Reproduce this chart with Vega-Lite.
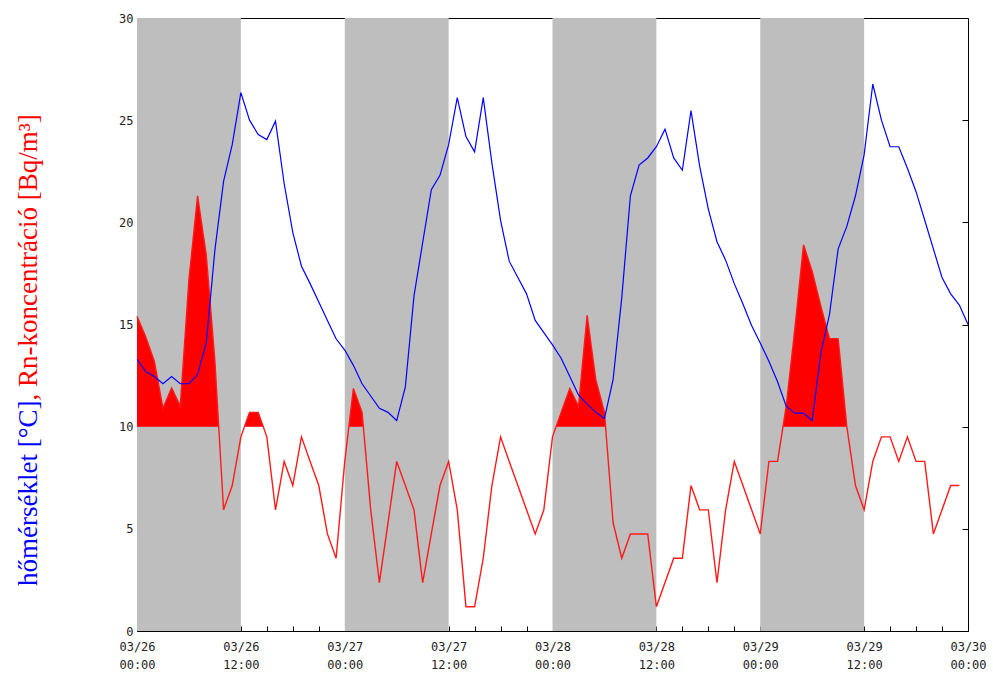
{
  "$schema": "https://vega.github.io/schema/vega-lite/v6.json",
  "width": 831,
  "height": 613,
  "autosize": {"type": "none"},
  "padding": {"left": 137, "top": 18, "right": 25, "bottom": 45},
  "background": "white",
  "config": {
    "view": {"stroke": "#000000", "strokeWidth": 1},
    "axis": {
      "labelFont": "DejaVu Sans Mono",
      "labelFontSize": 12,
      "labelColor": "#222222",
      "tickColor": "#000000",
      "grid": false,
      "domain": false
    }
  },
  "datasets": {
    "bands": [
      {"s": "2014-03-26T00:00:00Z", "e": "2014-03-26T12:00:00Z"},
      {"s": "2014-03-27T00:00:00Z", "e": "2014-03-27T12:00:00Z"},
      {"s": "2014-03-28T00:00:00Z", "e": "2014-03-28T12:00:00Z"},
      {"s": "2014-03-29T00:00:00Z", "e": "2014-03-29T12:00:00Z"}
    ],
    "redfill": [
      {"seg": "A", "t": "2014-03-26T00:00:00Z", "v": 15.4},
      {"seg": "A", "t": "2014-03-26T01:00:00Z", "v": 14.4},
      {"seg": "A", "t": "2014-03-26T02:00:00Z", "v": 13.2},
      {"seg": "A", "t": "2014-03-26T03:00:00Z", "v": 10.9},
      {"seg": "A", "t": "2014-03-26T04:00:00Z", "v": 11.9},
      {"seg": "A", "t": "2014-03-26T05:00:00Z", "v": 11.0},
      {"seg": "A", "t": "2014-03-26T06:00:00Z", "v": 17.2},
      {"seg": "A", "t": "2014-03-26T07:00:00Z", "v": 21.3},
      {"seg": "A", "t": "2014-03-26T08:00:00Z", "v": 18.4},
      {"seg": "A", "t": "2014-03-26T09:00:00Z", "v": 13.2},
      {"seg": "A", "t": "2014-03-26T09:26:00Z", "v": 10},
      {"seg": "B", "t": "2014-03-26T12:25:00Z", "v": 10},
      {"seg": "B", "t": "2014-03-26T13:00:00Z", "v": 10.7},
      {"seg": "B", "t": "2014-03-26T14:00:00Z", "v": 10.7},
      {"seg": "B", "t": "2014-03-26T14:35:00Z", "v": 10},
      {"seg": "C", "t": "2014-03-27T00:29:00Z", "v": 10},
      {"seg": "C", "t": "2014-03-27T01:00:00Z", "v": 11.87},
      {"seg": "C", "t": "2014-03-27T02:00:00Z", "v": 10.7},
      {"seg": "C", "t": "2014-03-27T02:09:00Z", "v": 10},
      {"seg": "D", "t": "2014-03-28T00:25:00Z", "v": 10},
      {"seg": "D", "t": "2014-03-28T01:00:00Z", "v": 10.7},
      {"seg": "D", "t": "2014-03-28T02:00:00Z", "v": 11.87},
      {"seg": "D", "t": "2014-03-28T03:00:00Z", "v": 11.0},
      {"seg": "D", "t": "2014-03-28T04:00:00Z", "v": 15.45},
      {"seg": "D", "t": "2014-03-28T05:00:00Z", "v": 12.3},
      {"seg": "D", "t": "2014-03-28T06:00:00Z", "v": 10.7},
      {"seg": "D", "t": "2014-03-28T06:08:00Z", "v": 10},
      {"seg": "E", "t": "2014-03-29T02:38:00Z", "v": 10},
      {"seg": "E", "t": "2014-03-29T03:00:00Z", "v": 11.0},
      {"seg": "E", "t": "2014-03-29T04:00:00Z", "v": 14.8},
      {"seg": "E", "t": "2014-03-29T05:00:00Z", "v": 18.9},
      {"seg": "E", "t": "2014-03-29T06:00:00Z", "v": 17.6},
      {"seg": "E", "t": "2014-03-29T07:00:00Z", "v": 15.9},
      {"seg": "E", "t": "2014-03-29T08:00:00Z", "v": 14.3},
      {"seg": "E", "t": "2014-03-29T09:00:00Z", "v": 14.3},
      {"seg": "E", "t": "2014-03-29T10:00:00Z", "v": 10.0}
    ],
    "rn": [
      {"t": "2014-03-26T00:00:00Z", "v": 15.4}, {"t": "2014-03-26T01:00:00Z", "v": 14.4}, {"t": "2014-03-26T02:00:00Z", "v": 13.2}, {"t": "2014-03-26T03:00:00Z", "v": 10.9},
      {"t": "2014-03-26T04:00:00Z", "v": 11.9}, {"t": "2014-03-26T05:00:00Z", "v": 11.0}, {"t": "2014-03-26T06:00:00Z", "v": 17.2}, {"t": "2014-03-26T07:00:00Z", "v": 21.3},
      {"t": "2014-03-26T08:00:00Z", "v": 18.4}, {"t": "2014-03-26T09:00:00Z", "v": 13.2}, {"t": "2014-03-26T10:00:00Z", "v": 5.93}, {"t": "2014-03-26T11:00:00Z", "v": 7.12},
      {"t": "2014-03-26T12:00:00Z", "v": 9.5}, {"t": "2014-03-26T13:00:00Z", "v": 10.7}, {"t": "2014-03-26T14:00:00Z", "v": 10.7}, {"t": "2014-03-26T15:00:00Z", "v": 9.5},
      {"t": "2014-03-26T16:00:00Z", "v": 5.93}, {"t": "2014-03-26T17:00:00Z", "v": 8.3}, {"t": "2014-03-26T18:00:00Z", "v": 7.12}, {"t": "2014-03-26T19:00:00Z", "v": 9.5},
      {"t": "2014-03-26T20:00:00Z", "v": 8.3}, {"t": "2014-03-26T21:00:00Z", "v": 7.12}, {"t": "2014-03-26T22:00:00Z", "v": 4.75}, {"t": "2014-03-26T23:00:00Z", "v": 3.56},
      {"t": "2014-03-27T00:00:00Z", "v": 8.3}, {"t": "2014-03-27T01:00:00Z", "v": 11.87}, {"t": "2014-03-27T02:00:00Z", "v": 10.7}, {"t": "2014-03-27T03:00:00Z", "v": 5.93},
      {"t": "2014-03-27T04:00:00Z", "v": 2.37}, {"t": "2014-03-27T05:00:00Z", "v": 5.3}, {"t": "2014-03-27T06:00:00Z", "v": 8.3}, {"t": "2014-03-27T07:00:00Z", "v": 7.12},
      {"t": "2014-03-27T08:00:00Z", "v": 5.93}, {"t": "2014-03-27T09:00:00Z", "v": 2.37}, {"t": "2014-03-27T10:00:00Z", "v": 4.75}, {"t": "2014-03-27T11:00:00Z", "v": 7.12},
      {"t": "2014-03-27T12:00:00Z", "v": 8.3}, {"t": "2014-03-27T13:00:00Z", "v": 5.93}, {"t": "2014-03-27T14:00:00Z", "v": 1.19}, {"t": "2014-03-27T15:00:00Z", "v": 1.19},
      {"t": "2014-03-27T16:00:00Z", "v": 3.56}, {"t": "2014-03-27T17:00:00Z", "v": 7.12}, {"t": "2014-03-27T18:00:00Z", "v": 9.5}, {"t": "2014-03-27T19:00:00Z", "v": 8.3},
      {"t": "2014-03-27T20:00:00Z", "v": 7.12}, {"t": "2014-03-27T21:00:00Z", "v": 5.93}, {"t": "2014-03-27T22:00:00Z", "v": 4.75}, {"t": "2014-03-27T23:00:00Z", "v": 5.93},
      {"t": "2014-03-28T00:00:00Z", "v": 9.5}, {"t": "2014-03-28T01:00:00Z", "v": 10.7}, {"t": "2014-03-28T02:00:00Z", "v": 11.87}, {"t": "2014-03-28T03:00:00Z", "v": 11.0},
      {"t": "2014-03-28T04:00:00Z", "v": 15.45}, {"t": "2014-03-28T05:00:00Z", "v": 12.3}, {"t": "2014-03-28T06:00:00Z", "v": 10.7}, {"t": "2014-03-28T07:00:00Z", "v": 5.3},
      {"t": "2014-03-28T08:00:00Z", "v": 3.56}, {"t": "2014-03-28T09:00:00Z", "v": 4.75}, {"t": "2014-03-28T10:00:00Z", "v": 4.75}, {"t": "2014-03-28T11:00:00Z", "v": 4.75},
      {"t": "2014-03-28T12:00:00Z", "v": 1.19}, {"t": "2014-03-28T13:00:00Z", "v": 2.37}, {"t": "2014-03-28T14:00:00Z", "v": 3.56}, {"t": "2014-03-28T15:00:00Z", "v": 3.56},
      {"t": "2014-03-28T16:00:00Z", "v": 7.12}, {"t": "2014-03-28T17:00:00Z", "v": 5.93}, {"t": "2014-03-28T18:00:00Z", "v": 5.93}, {"t": "2014-03-28T19:00:00Z", "v": 2.37},
      {"t": "2014-03-28T20:00:00Z", "v": 5.93}, {"t": "2014-03-28T21:00:00Z", "v": 8.3}, {"t": "2014-03-28T22:00:00Z", "v": 7.12}, {"t": "2014-03-28T23:00:00Z", "v": 5.93},
      {"t": "2014-03-29T00:00:00Z", "v": 4.75}, {"t": "2014-03-29T01:00:00Z", "v": 8.3}, {"t": "2014-03-29T02:00:00Z", "v": 8.3}, {"t": "2014-03-29T03:00:00Z", "v": 11.0},
      {"t": "2014-03-29T04:00:00Z", "v": 14.8}, {"t": "2014-03-29T05:00:00Z", "v": 18.9}, {"t": "2014-03-29T06:00:00Z", "v": 17.6}, {"t": "2014-03-29T07:00:00Z", "v": 15.9},
      {"t": "2014-03-29T08:00:00Z", "v": 14.3}, {"t": "2014-03-29T09:00:00Z", "v": 14.3}, {"t": "2014-03-29T10:00:00Z", "v": 10.0}, {"t": "2014-03-29T11:00:00Z", "v": 7.12},
      {"t": "2014-03-29T12:00:00Z", "v": 5.93}, {"t": "2014-03-29T13:00:00Z", "v": 8.3}, {"t": "2014-03-29T14:00:00Z", "v": 9.5}, {"t": "2014-03-29T15:00:00Z", "v": 9.5},
      {"t": "2014-03-29T16:00:00Z", "v": 8.3}, {"t": "2014-03-29T17:00:00Z", "v": 9.5}, {"t": "2014-03-29T18:00:00Z", "v": 8.3}, {"t": "2014-03-29T19:00:00Z", "v": 8.3},
      {"t": "2014-03-29T20:00:00Z", "v": 4.75}, {"t": "2014-03-29T21:00:00Z", "v": 5.93}, {"t": "2014-03-29T22:00:00Z", "v": 7.12}, {"t": "2014-03-29T23:00:00Z", "v": 7.12}
    ],
    "temp": [
      {"t": "2014-03-26T00:00:00Z", "v": 13.3}, {"t": "2014-03-26T01:00:00Z", "v": 12.7}, {"t": "2014-03-26T02:00:00Z", "v": 12.45}, {"t": "2014-03-26T03:00:00Z", "v": 12.1},
      {"t": "2014-03-26T04:00:00Z", "v": 12.45}, {"t": "2014-03-26T05:00:00Z", "v": 12.1}, {"t": "2014-03-26T06:00:00Z", "v": 12.1}, {"t": "2014-03-26T07:00:00Z", "v": 12.55},
      {"t": "2014-03-26T08:00:00Z", "v": 14.1}, {"t": "2014-03-26T09:00:00Z", "v": 18.65}, {"t": "2014-03-26T10:00:00Z", "v": 22.0}, {"t": "2014-03-26T11:00:00Z", "v": 23.8},
      {"t": "2014-03-26T12:00:00Z", "v": 26.35}, {"t": "2014-03-26T13:00:00Z", "v": 25.0}, {"t": "2014-03-26T14:00:00Z", "v": 24.3}, {"t": "2014-03-26T15:00:00Z", "v": 24.05},
      {"t": "2014-03-26T16:00:00Z", "v": 24.95}, {"t": "2014-03-26T17:00:00Z", "v": 21.9}, {"t": "2014-03-26T18:00:00Z", "v": 19.5}, {"t": "2014-03-26T19:00:00Z", "v": 17.85},
      {"t": "2014-03-26T20:00:00Z", "v": 17.0}, {"t": "2014-03-26T21:00:00Z", "v": 16.1}, {"t": "2014-03-26T22:00:00Z", "v": 15.2}, {"t": "2014-03-26T23:00:00Z", "v": 14.3},
      {"t": "2014-03-27T00:00:00Z", "v": 13.75}, {"t": "2014-03-27T01:00:00Z", "v": 13.0}, {"t": "2014-03-27T02:00:00Z", "v": 12.1}, {"t": "2014-03-27T03:00:00Z", "v": 11.5},
      {"t": "2014-03-27T04:00:00Z", "v": 10.9}, {"t": "2014-03-27T05:00:00Z", "v": 10.7}, {"t": "2014-03-27T06:00:00Z", "v": 10.3}, {"t": "2014-03-27T07:00:00Z", "v": 11.95},
      {"t": "2014-03-27T08:00:00Z", "v": 16.4}, {"t": "2014-03-27T09:00:00Z", "v": 19.0}, {"t": "2014-03-27T10:00:00Z", "v": 21.6}, {"t": "2014-03-27T11:00:00Z", "v": 22.3},
      {"t": "2014-03-27T12:00:00Z", "v": 23.8}, {"t": "2014-03-27T13:00:00Z", "v": 26.1}, {"t": "2014-03-27T14:00:00Z", "v": 24.2}, {"t": "2014-03-27T15:00:00Z", "v": 23.45},
      {"t": "2014-03-27T16:00:00Z", "v": 26.1}, {"t": "2014-03-27T17:00:00Z", "v": 22.9}, {"t": "2014-03-27T18:00:00Z", "v": 20.1}, {"t": "2014-03-27T19:00:00Z", "v": 18.1},
      {"t": "2014-03-27T20:00:00Z", "v": 17.3}, {"t": "2014-03-27T21:00:00Z", "v": 16.5}, {"t": "2014-03-27T22:00:00Z", "v": 15.2}, {"t": "2014-03-27T23:00:00Z", "v": 14.6},
      {"t": "2014-03-28T00:00:00Z", "v": 14.0}, {"t": "2014-03-28T01:00:00Z", "v": 13.35}, {"t": "2014-03-28T02:00:00Z", "v": 12.45}, {"t": "2014-03-28T03:00:00Z", "v": 11.55},
      {"t": "2014-03-28T04:00:00Z", "v": 11.1}, {"t": "2014-03-28T05:00:00Z", "v": 10.7}, {"t": "2014-03-28T06:00:00Z", "v": 10.4}, {"t": "2014-03-28T07:00:00Z", "v": 12.3},
      {"t": "2014-03-28T08:00:00Z", "v": 16.3}, {"t": "2014-03-28T09:00:00Z", "v": 21.3}, {"t": "2014-03-28T10:00:00Z", "v": 22.8}, {"t": "2014-03-28T11:00:00Z", "v": 23.15},
      {"t": "2014-03-28T12:00:00Z", "v": 23.7}, {"t": "2014-03-28T13:00:00Z", "v": 24.56}, {"t": "2014-03-28T14:00:00Z", "v": 23.15}, {"t": "2014-03-28T15:00:00Z", "v": 22.55},
      {"t": "2014-03-28T16:00:00Z", "v": 25.47}, {"t": "2014-03-28T17:00:00Z", "v": 22.75}, {"t": "2014-03-28T18:00:00Z", "v": 20.65}, {"t": "2014-03-28T19:00:00Z", "v": 19.05},
      {"t": "2014-03-28T20:00:00Z", "v": 18.15}, {"t": "2014-03-28T21:00:00Z", "v": 17.0}, {"t": "2014-03-28T22:00:00Z", "v": 16.0}, {"t": "2014-03-28T23:00:00Z", "v": 14.95},
      {"t": "2014-03-29T00:00:00Z", "v": 14.1}, {"t": "2014-03-29T01:00:00Z", "v": 13.2}, {"t": "2014-03-29T02:00:00Z", "v": 12.2}, {"t": "2014-03-29T03:00:00Z", "v": 11.0},
      {"t": "2014-03-29T04:00:00Z", "v": 10.66}, {"t": "2014-03-29T05:00:00Z", "v": 10.66}, {"t": "2014-03-29T06:00:00Z", "v": 10.3}, {"t": "2014-03-29T07:00:00Z", "v": 13.6},
      {"t": "2014-03-29T08:00:00Z", "v": 15.5}, {"t": "2014-03-29T09:00:00Z", "v": 18.7}, {"t": "2014-03-29T10:00:00Z", "v": 19.8}, {"t": "2014-03-29T11:00:00Z", "v": 21.3},
      {"t": "2014-03-29T12:00:00Z", "v": 23.3}, {"t": "2014-03-29T13:00:00Z", "v": 26.77}, {"t": "2014-03-29T14:00:00Z", "v": 25.0}, {"t": "2014-03-29T15:00:00Z", "v": 23.7},
      {"t": "2014-03-29T16:00:00Z", "v": 23.7}, {"t": "2014-03-29T17:00:00Z", "v": 22.65}, {"t": "2014-03-29T18:00:00Z", "v": 21.5}, {"t": "2014-03-29T19:00:00Z", "v": 20.1},
      {"t": "2014-03-29T20:00:00Z", "v": 18.7}, {"t": "2014-03-29T21:00:00Z", "v": 17.3}, {"t": "2014-03-29T22:00:00Z", "v": 16.5}, {"t": "2014-03-29T23:00:00Z", "v": 15.95},
      {"t": "2014-03-30T00:00:00Z", "v": 15.0}
    ]
  },
  "resolve": {"axis": {"y": "independent"}},
  "layer": [
    {
      "data": {"name": "bands"},
      "mark": {"type": "rect", "color": "#bebebe"},
      "encoding": {
        "x": {
          "field": "s", "type": "temporal",
          "scale": {
            "type": "utc",
            "domain": [
              {"year": 2014, "month": 3, "date": 26, "utc": true},
              {"year": 2014, "month": 3, "date": 30, "utc": true}
            ],
            "nice": false
          },
          "axis": {
            "title": null,
            "tickCount": 32,
            "tickSize": -5,
            "labelPadding": 15,
            "labelOverlap": false,
            "labelFlush": false,
            "labelBaseline": "top",
            "labelLineHeight": 18,
            "labelExpr": "utchours(datum.value) % 12 == 0 ? [utcFormat(datum.value, '%m/%d'), utcFormat(datum.value, '%H:%M')] : ''"
          }
        },
        "x2": {"field": "e"}
      }
    },
    {
      "data": {"name": "redfill"},
      "mark": {"type": "area", "color": "#ff0000", "opacity": 1},
      "encoding": {
        "x": {"field": "t", "type": "temporal", "scale": {"type": "utc"}, "title": null},
        "y": {
          "field": "v", "type": "quantitative",
          "scale": {"domain": [0, 30], "nice": false},
          "axis": {
            "orient": "right",
            "values": [0, 5, 10, 15, 20, 25, 30],
            "tickSize": -6,
            "labels": false,
            "title": null
          }
        },
        "y2": {"datum": 10},
        "detail": {"field": "seg"}
      }
    },
    {
      "data": {"name": "rn"},
      "mark": {"type": "line", "color": "#ff1a1a", "strokeWidth": 1.4},
      "encoding": {
        "x": {"field": "t", "type": "temporal", "scale": {"type": "utc"}, "title": null},
        "y": {
          "field": "v", "type": "quantitative",
          "axis": {
            "orient": "left",
            "values": [0, 5, 10, 15, 20, 25, 30],
            "tickSize": -6,
            "labelPadding": 10,
            "title": ", Rn-koncentráció [Bq/m³]",
            "titleColor": "#ff0000",
            "titleFont": "Liberation Serif",
            "titleFontSize": 27,
            "titleFontWeight": "normal",
            "titleAngle": -90,
            "titleAlign": "left",
            "titleBaseline": "middle",
            "titleX": -109,
            "titleY": 382
          }
        }
      }
    },
    {
      "data": {"name": "temp"},
      "mark": {"type": "line", "color": "#0000ff", "strokeWidth": 1.2},
      "encoding": {
        "x": {"field": "t", "type": "temporal", "scale": {"type": "utc"}, "title": null},
        "y": {
          "field": "v", "type": "quantitative",
          "axis": {
            "orient": "left",
            "ticks": false,
            "labels": false,
            "title": "hőmérséklet [°C]",
            "titleColor": "#0000ff",
            "titleFont": "Liberation Serif",
            "titleFontSize": 27,
            "titleFontWeight": "normal",
            "titleAngle": -90,
            "titleAlign": "right",
            "titleBaseline": "middle",
            "titleX": -109,
            "titleY": 382
          }
        }
      }
    }
  ]
}
